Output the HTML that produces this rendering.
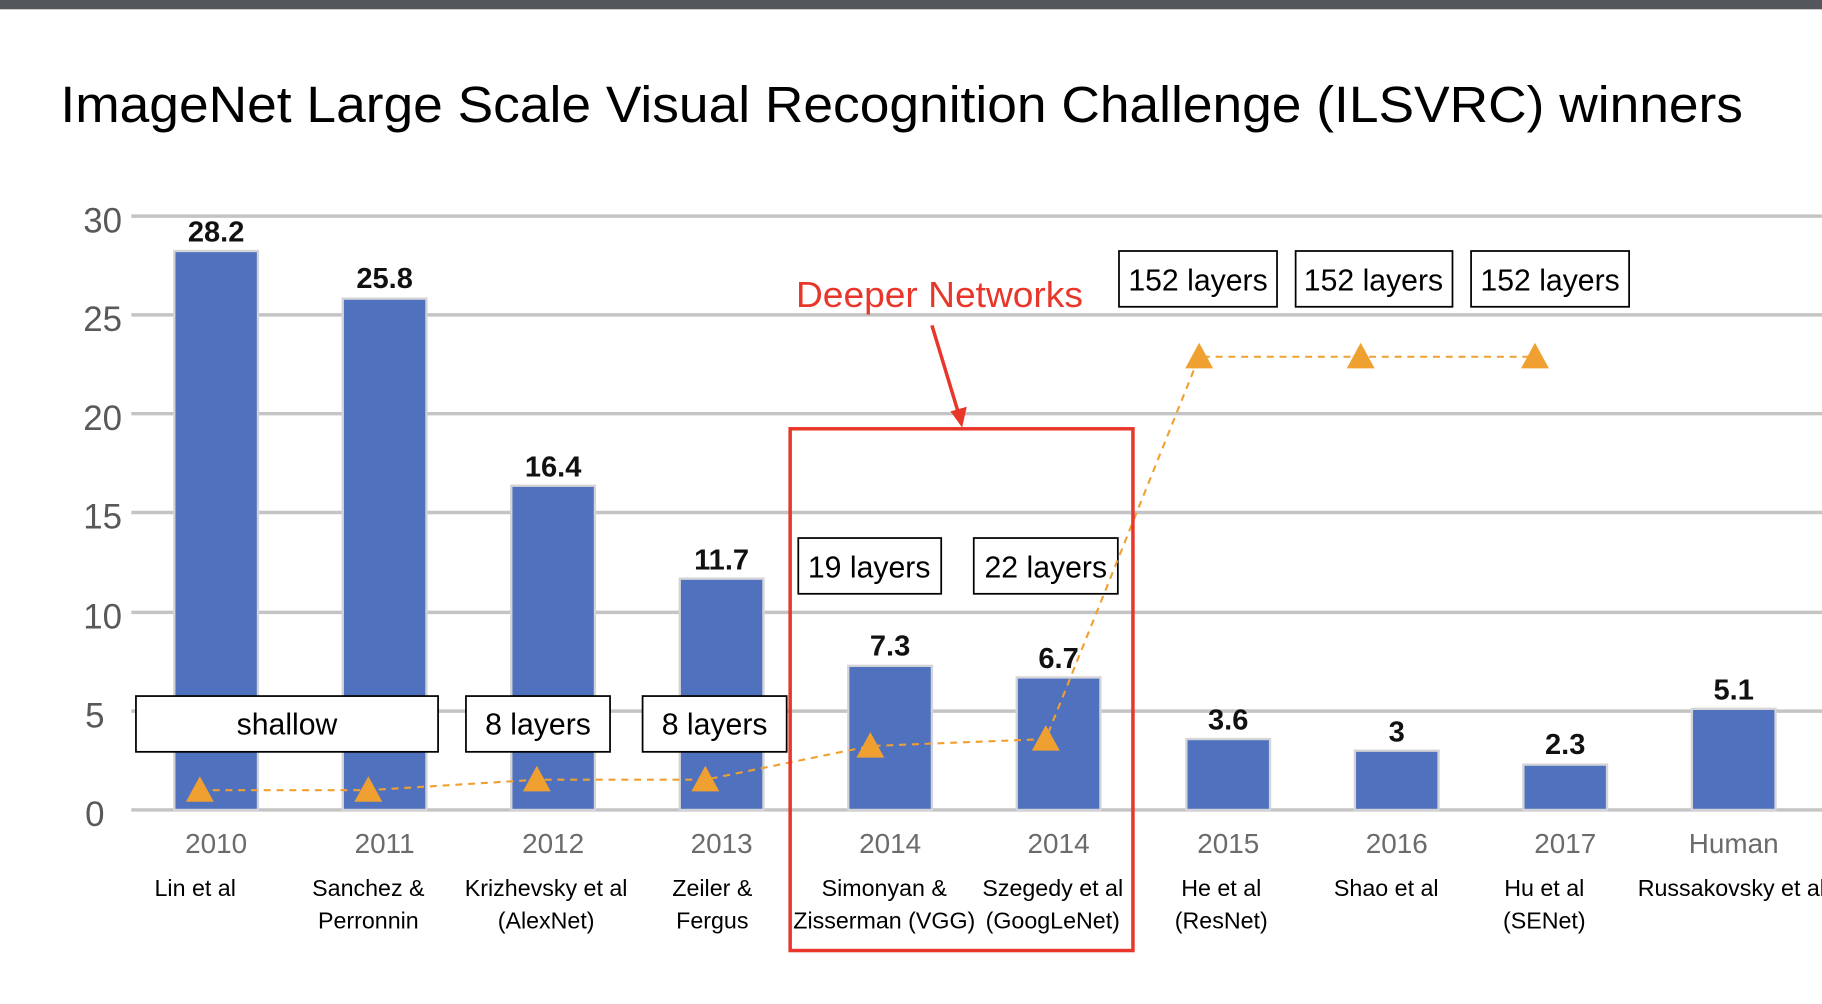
<!DOCTYPE html>
<html><head><meta charset="utf-8"><style>
html,body{margin:0;padding:0;background:#fff;width:1822px;height:1004px;overflow:hidden}
svg{display:block}
.y{font:30px "Liberation Sans Narrow","Liberation Sans",sans-serif;fill:#595959;text-anchor:end}
.v{font:bold 25px "Liberation Sans Narrow","Liberation Sans",sans-serif;fill:#111;text-anchor:middle}
.yr{font:24px "Liberation Sans Narrow","Liberation Sans",sans-serif;fill:#6b6b6b;text-anchor:middle}
.n{font:20px "Liberation Sans",sans-serif;fill:#000;text-anchor:middle}
.b{font:26px "Liberation Sans",sans-serif;fill:#000;text-anchor:middle}
</style></head><body>
<svg width="1822" height="1004" viewBox="0 0 1568 864" preserveAspectRatio="none">
<rect x="0" y="0" width="1568" height="8" fill="#53565a"/>
<text x="52" y="105" font-family="Liberation Sans, sans-serif" font-size="44" fill="#000" textLength="1448" lengthAdjust="spacingAndGlyphs">ImageNet Large Scale Visual Recognition Challenge (ILSVRC) winners</text>
<g stroke="#c4c4c4" stroke-width="3">
<line x1="113" y1="186" x2="1568" y2="186"/><line x1="113" y1="271" x2="1568" y2="271"/>
<line x1="113" y1="356" x2="1568" y2="356"/><line x1="113" y1="441" x2="1568" y2="441"/>
<line x1="113" y1="527" x2="1568" y2="527"/><line x1="113" y1="612" x2="1568" y2="612"/>
<line x1="113" y1="697" x2="1568" y2="697"/>
</g>
<g><text x="105" y="200" class="y">30</text><text x="105" y="285" class="y">25</text><text x="105" y="370" class="y">20</text><text x="105" y="455" class="y">15</text><text x="105" y="541" class="y">10</text><text x="90" y="626" class="y">5</text><text x="90" y="711" class="y">0</text></g>
<g fill="#5071bd" stroke="#d4d4d8" stroke-width="2">
<rect x="150" y="216" width="72" height="481"/>
<rect x="295" y="257" width="72" height="440"/>
<rect x="440" y="418" width="72" height="279"/>
<rect x="585" y="498" width="72" height="199"/>
<rect x="730" y="573" width="72" height="124"/>
<rect x="875" y="583" width="72" height="114"/>
<rect x="1021" y="636" width="72" height="61"/>
<rect x="1166" y="646" width="72" height="51"/>
<rect x="1311" y="658" width="72" height="39"/>
<rect x="1456" y="610" width="72" height="87"/>
</g>
<g>
<text x="186" y="208" class="v">28.2</text><text x="331" y="248" class="v">25.8</text><text x="476" y="410" class="v">16.4</text><text x="621" y="490" class="v">11.7</text><text x="766" y="564" class="v">7.3</text><text x="911" y="575" class="v">6.7</text><text x="1057" y="628" class="v">3.6</text><text x="1202" y="638" class="v">3</text><text x="1347" y="649" class="v">2.3</text><text x="1492" y="602" class="v">5.1</text>
</g>
<g>
<text x="186" y="734" class="yr">2010</text><text x="331" y="734" class="yr">2011</text><text x="476" y="734" class="yr">2012</text><text x="621" y="734" class="yr">2013</text><text x="766" y="734" class="yr">2014</text><text x="911" y="734" class="yr">2014</text><text x="1057" y="734" class="yr">2015</text><text x="1202" y="734" class="yr">2016</text><text x="1347" y="734" class="yr">2017</text><text x="1492" y="734" class="yr">Human</text>
</g>
<g>
<text x="168" y="771" class="n">Lin et al</text>
<text x="317" y="771" class="n">Sanchez &amp;</text><text x="317" y="799" class="n">Perronnin</text>
<text x="470" y="771" class="n">Krizhevsky et al</text><text x="470" y="799" class="n">(AlexNet)</text>
<text x="613" y="771" class="n">Zeiler &amp;</text><text x="613" y="799" class="n">Fergus</text>
<text x="761" y="771" class="n">Simonyan &amp;</text><text x="761" y="799" class="n">Zisserman (VGG)</text>
<text x="906" y="771" class="n">Szegedy et al</text><text x="906" y="799" class="n">(GoogLeNet)</text>
<text x="1051" y="771" class="n">He et al</text><text x="1051" y="799" class="n">(ResNet)</text>
<text x="1193" y="771" class="n">Shao et al</text>
<text x="1329" y="771" class="n">Hu et al</text><text x="1329" y="799" class="n">(SENet)</text>
<text x="1490" y="771" class="n">Russakovsky et al</text>
</g>
<g fill="#fff" stroke="#000" stroke-width="1.5">
<rect x="117" y="599" width="260" height="48"/><rect x="401" y="599" width="124" height="48"/><rect x="553" y="599" width="124" height="48"/>
<rect x="687" y="463" width="123" height="48"/><rect x="838" y="463" width="124" height="48"/>
<rect x="963" y="216" width="136" height="48"/><rect x="1115" y="216" width="135" height="48"/><rect x="1266" y="216" width="136" height="48"/>
</g>
<g>
<text x="247" y="632" class="b">shallow</text><text x="463" y="632" class="b">8 layers</text><text x="615" y="632" class="b">8 layers</text>
<text x="748" y="497" class="b">19 layers</text><text x="900" y="497" class="b">22 layers</text>
<text x="1031" y="250" class="b">152 layers</text><text x="1182" y="250" class="b">152 layers</text><text x="1334" y="250" class="b">152 layers</text>
</g>
<polyline points="172,680 317,680 462,671 607,671 749,642 900,636 1032,307 1171,307 1321,307" fill="none" stroke="#f0a030" stroke-width="1.8" stroke-dasharray="6,5"/>
<g fill="#f0a030">
<polygon points="172,668 160,690 184,690"/><polygon points="317,668 305,690 329,690"/><polygon points="462,659 450,681 474,681"/><polygon points="607,659 595,681 619,681"/>
<polygon points="749,630 737,652 761,652"/><polygon points="900,624 888,646 912,646"/>
<polygon points="1032,295 1020,317 1044,317"/><polygon points="1171,295 1159,317 1183,317"/><polygon points="1321,295 1309,317 1333,317"/>
</g>
<rect x="680" y="369" width="295" height="449" fill="none" stroke="#e8362b" stroke-width="3"/>
<text x="685" y="264" font-family="Liberation Sans, sans-serif" font-size="31" fill="#e8362b" textLength="247" lengthAdjust="spacingAndGlyphs">Deeper Networks</text>
<line x1="802" y1="280" x2="825" y2="356" stroke="#e8362b" stroke-width="3"/>
<polygon points="828,368 818,354 832,350" fill="#e8362b"/>
</svg>
</body></html>
